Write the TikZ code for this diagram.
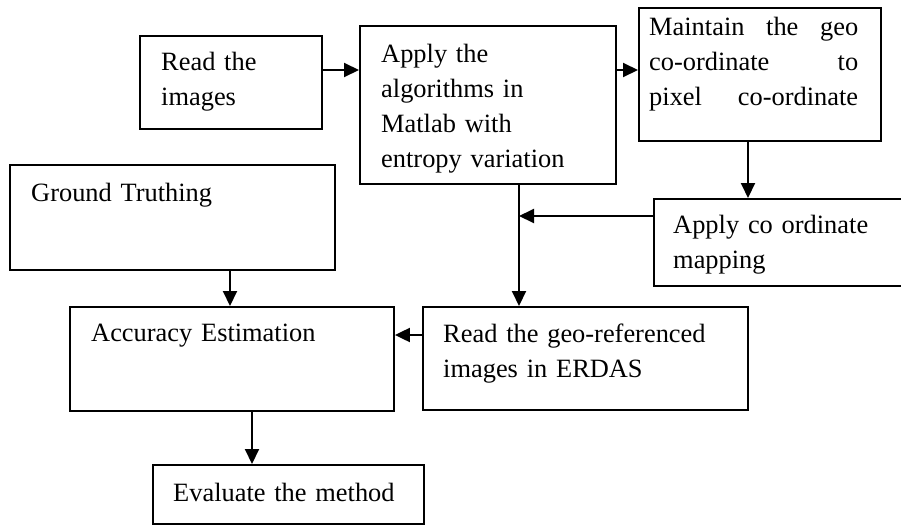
\documentclass[tikz,border=0pt]{standalone}
\usepackage{fontspec}
\setmainfont{Liberation Serif}
\usetikzlibrary{arrows.meta,calc}
\begin{document}
\begin{tikzpicture}[x=1pt,y=-1pt,
  box/.style={draw, line width=1.9pt, inner sep=0pt, anchor=north west},
  txt/.style={anchor=base west, inner sep=0pt, align=left, text width=#1,
              font=\fontsize{26.4}{35}\selectfont},
  txt/.default=300pt,
  arr/.style={line width=2pt, -{Triangle[length=15pt,width=14pt]}}]
\useasboundingbox (0,0) rectangle (901,525);

% boxes
\node[box, minimum width=182pt, minimum height=93pt]  (b1) at (139,35)  {};
\node[box, minimum width=256pt, minimum height=158pt] (b2) at (359,25)  {};
\node[box, minimum width=242pt, minimum height=133pt] (b3) at (638,7)   {};
\node[box, minimum width=255pt, minimum height=87pt]  (b4) at (653,198) {};
\node[box, minimum width=325pt, minimum height=103pt] (b5) at (422,306) {};
\node[box, minimum width=325pt, minimum height=105pt] (b6) at (9,164)   {};
\node[box, minimum width=324pt, minimum height=104pt] (b7) at (69,306)  {};
\node[box, minimum width=271pt, minimum height=59pt]  (b8) at (152,464) {};

% texts
\node[txt] (t1) at (161,70)  {Read the\\images};
\node[txt] (t2) at (381,62)  {Apply the\\algorithms in\\Matlab with\\entropy variation};
\node[txt=209pt] (t3) at (649,35) {Maintain\hfill the\hfill geo\\co-ordinate\hfill to\\pixel\hfill co-ordinate};
\node[txt] (t4) at (673,233) {Apply co ordinate\\mapping};
\node[txt] (t5) at (443,342) {Read the geo-referenced\\images in ERDAS};
\node[txt] (t6) at (31,201)  {Ground Truthing};
\node[txt] (t7) at (91,341)  {Accuracy Estimation};
\node[txt] (t8) at (173,501) {Evaluate the method};

% connectors
\coordinate (j) at (519,216);
\draw[arr] (b1.east |- 0,70) -- (b2.west |- 0,70);
\draw[arr] (b2.east |- 0,70) -- (b3.west |- 0,70);
\draw[arr] (b3.south -| 748,0) -- (b4.north -| 748,0);
\draw[arr] (b4.west |- j) -- (j);
\draw[arr] (b2.south -| j) -- (b5.north -| j);
\draw[arr] (b6.south -| 230,0) -- (b7.north -| 230,0);
\draw[arr] (b5.west |- 0,335) -- (b7.east |- 0,335);
\draw[arr] (b7.south -| 252,0) -- (b8.north -| 252,0);
\end{tikzpicture}
\end{document}
